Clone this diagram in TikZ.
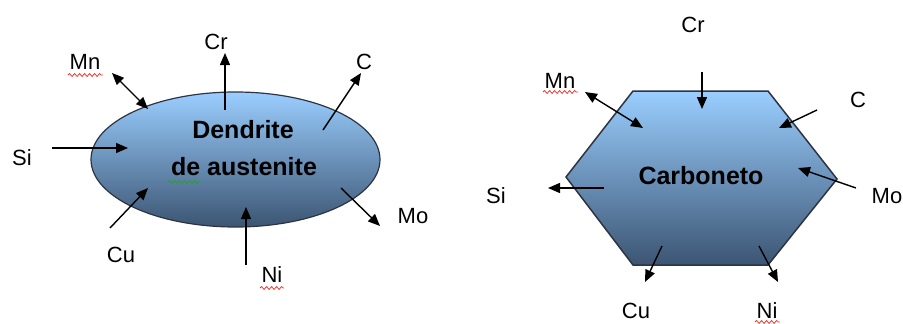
\documentclass[tikz,border=0pt]{standalone}
\usepackage{fontspec}
\setmainfont{Liberation Sans}
\usetikzlibrary{arrows.meta,shapes.geometric,decorations.pathmorphing}
\definecolor{celltop}{RGB}{154,206,255}
\definecolor{cellbot}{RGB}{60,85,115}
\definecolor{celledge}{RGB}{45,52,64}
\definecolor{wavered}{RGB}{235,60,50}
\definecolor{wavegreen}{RGB}{40,160,40}
\tikzset{
  elem/.style={font=\fontsize{22}{26}\selectfont, anchor=base, inner sep=0pt},
  title/.style={font=\bfseries\fontsize{25}{30}\selectfont, anchor=base, inner sep=0pt},
  arr/.style={line width=1.4pt, -{Triangle[length=12pt,width=10pt]}},
  darr/.style={line width=1.4pt, {Triangle[length=12pt,width=10pt]}-{Triangle[length=12pt,width=10pt]}},
  phase/.style={top color=celltop, bottom color=cellbot, draw=celledge, line width=1.2pt},
  wavy/.style={line width=0.8pt, decorate, decoration={snake, segment length=5pt, amplitude=1.5pt}}
}
\begin{document}
\begin{tikzpicture}[x=1pt,y=-1pt]
\useasboundingbox (0,0) rectangle (903,324);

% ---------- austenite dendrite ----------
\node[phase, ellipse, minimum width=289pt, minimum height=135pt, inner sep=0pt] (dend) at (235.5,159.5) {};
\node[title] (dtxt1) at (243,138) {Dendrite};
\node[title] (dtxt2) at (244,175) {de austenite};

\node[elem] (lCr) at (216,49) {Cr};
\node[elem] (lMn) at (85,69) {Mn};
\node[elem] (lC)  at (364,69) {C};
\node[elem] (lSi) at (22,165) {Si};
\node[elem] (lCu) at (121,262) {Cu};
\node[elem] (lNi) at (272,282) {Ni};
\node[elem] (lMo) at (413,223) {Mo};

\coordinate (aCr1) at (225,110); \coordinate (aCr2) at (225,53);
\coordinate (aMn1) at (112,73);  \coordinate (aMn2) at (148,109);
\coordinate (aC1)  at (323,130); \coordinate (aC2)  at (361,73);
\coordinate (aSi1) at (52,148);  \coordinate (aSi2) at (128,148);
\coordinate (aCu1) at (110,228); \coordinate (aCu2) at (148,188);
\coordinate (aNi1) at (246,265); \coordinate (aNi2) at (246,207);
\coordinate (aMo1) at (341,188); \coordinate (aMo2) at (380,226);

\draw[arr]  (aCr1) -- (aCr2);
\draw[darr] (aMn1) -- (aMn2);
\draw[arr]  (aC1)  -- (aC2);
\draw[arr]  (aSi1) -- (aSi2);
\draw[arr]  (aCu1) -- (aCu2);
\draw[arr]  (aNi1) -- (aNi2);
\draw[arr]  (aMo1) -- (aMo2);

% spell-check marks
\draw[wavy, wavered]   (68,75)  -- (103,75);
\draw[wavy, wavered]   (260,288) -- (284,288);
\draw[wavy, wavegreen] (168,182) -- (200,182);

% ---------- carbide ----------
\coordinate (h1) at (633,91);
\coordinate (h2) at (768,91);
\coordinate (h3) at (837,179);
\coordinate (h4) at (768,265);
\coordinate (h5) at (633,265);
\coordinate (h6) at (566,177);
\shade[phase, line width=1.5pt, line join=miter] (h1) -- (h2) -- (h3) -- (h4) -- (h5) -- (h6) -- cycle;
\node[title] (ctxt) at (701,184) {Carboneto};

\node[elem] (rCr) at (693,32) {Cr};
\node[elem] (rMn) at (560,88) {Mn};
\node[elem] (rC)  at (858,107) {C};
\node[elem] (rSi) at (496,203) {Si};
\node[elem] (rMo) at (887,203) {Mo};
\node[elem] (rCu) at (636,318) {Cu};
\node[elem] (rNi) at (767,318) {Ni};

\coordinate (bCr1) at (702,72);  \coordinate (bCr2) at (702,109);
\coordinate (bMn1) at (585,92);  \coordinate (bMn2) at (643,128);
\coordinate (bC1)  at (817,110); \coordinate (bC2)  at (779,128);
\coordinate (bSi1) at (604,188); \coordinate (bSi2) at (548,188);
\coordinate (bMo1) at (856,188); \coordinate (bMo2) at (798,168);
\coordinate (bCu1) at (662,246); \coordinate (bCu2) at (645,282);
\coordinate (bNi1) at (759,246); \coordinate (bNi2) at (778,282);

\draw[arr]  (bCr1) -- (bCr2);
\draw[darr] (bMn1) -- (bMn2);
\draw[arr]  (bC1)  -- (bC2);
\draw[arr]  (bSi1) -- (bSi2);
\draw[arr]  (bMo1) -- (bMo2);
\draw[arr]  (bCu1) -- (bCu2);
\draw[arr]  (bNi1) -- (bNi2);

\draw[wavy, wavered] (543,92)  -- (578,92);
\draw[wavy, wavered] (755,322) -- (780,322);
\end{tikzpicture}
\end{document}
